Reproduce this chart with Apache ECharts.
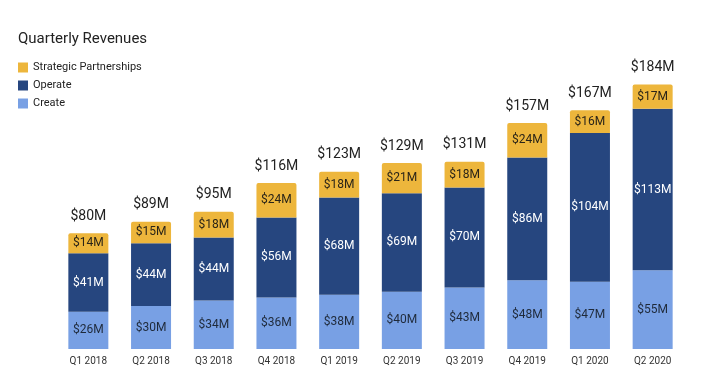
<!DOCTYPE html>
<html><head><meta charset="utf-8">
<script src="https://cdn.jsdelivr.net/npm/echarts@6/dist/echarts.min.js"></script>
<style>html,body{margin:0;padding:0;background:#fff}#c{width:702px;height:378px}</style>
</head><body><div id="c"></div>
<script>
const categories = ['Q1 2018','Q2 2018','Q3 2018','Q4 2018','Q1 2019','Q2 2019','Q3 2019','Q4 2019','Q1 2020','Q2 2020'];
const create = [26,30,34,36,38,40,43,48,47,55];
const operate = [41,44,44,56,68,69,70,86,104,113];
const partnerships = [14,15,18,24,18,21,18,24,16,17];
const totals = [80,89,95,116,123,129,131,157,167,184];

const font = 'Roboto, "Noto Sans", sans-serif';
const chart = echarts.init(document.getElementById('c'), null, {renderer:'canvas'});
const segLabel = (color) => ({show:true, position:'inside', color:color, fontFamily:font, fontSize:12, formatter:p=>'$'+p.value+'M'});
chart.setOption({
  animation:false,
  title:{text:'Quarterly Revenues', left:13, top:27, textStyle:{fontFamily:font, fontSize:15, fontWeight:'normal', color:'#222'}},
  legend:{orient:'vertical', left:13, top:57, itemWidth:10, itemHeight:10, itemGap:7, icon:'rect',
    data:['Strategic Partnerships','Operate','Create'],
    textStyle:{fontFamily:font, fontSize:11, color:'#222'}},
  grid:{left:57, right:18, top:63, bottom:29},
  xAxis:{type:'category', data:categories, axisLine:{show:false}, axisTick:{show:false},
    axisLabel:{fontFamily:font, fontSize:10, color:'#333', margin:7}},
  yAxis:{type:'value', min:0, max:200, show:false, splitLine:{show:false}},
  series:[
    {name:'Create', type:'bar', stack:'s', barWidth:40, data:create, itemStyle:{color:'#78A0E4'}, label:segLabel('#1f2a3a')},
    {name:'Operate', type:'bar', stack:'s', data:operate, itemStyle:{color:'#26467F'}, label:segLabel('#ffffff')},
    {name:'Strategic Partnerships', type:'bar', stack:'s', data:partnerships, itemStyle:{color:'#EDB63C', borderRadius:[2,2,0,0]}, label:segLabel('#2a2418')},
    {name:'Total', type:'bar', stack:'s', data:totals.map(()=>0), itemStyle:{color:'transparent'},
      label:{show:true, position:'top', distance:10, fontFamily:font, fontSize:14, color:'#222',
        formatter:p=>'$'+totals[p.dataIndex]+'M'}, tooltip:{show:false}}
  ]
});
</script></body></html>
